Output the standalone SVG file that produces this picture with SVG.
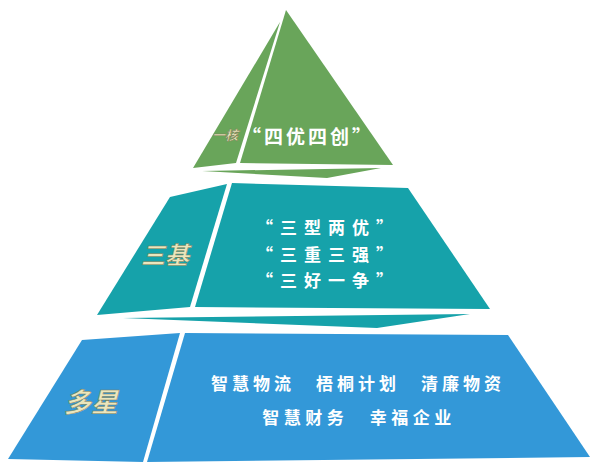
<svg xmlns="http://www.w3.org/2000/svg" width="600" height="467" viewBox="0 0 600 467">
<style>
.g{fill:#69a55a}
.t{fill:#16a2aa}
.b{fill:#3398d8}
.w{font-family:"Noto Sans CJK SC","Noto Sans",sans-serif;font-weight:bold;fill:#ffffff;text-anchor:middle}
.c{font-family:"Noto Sans CJK SC","Noto Sans",sans-serif;font-style:italic;font-weight:bold;fill:#ebe6bd;stroke:#7d7d55;stroke-width:0.5;text-anchor:middle}
</style>
<rect width="600" height="467" fill="#ffffff"/>
<g id="tier-top">
<polygon class="g" points="280,22 236,163 193,168"/>
<polygon class="g" points="286,10 393,165 240,163"/>
<polygon class="g" points="202,171 381,168 327,178"/>
<text class="c" x="225" y="140" font-size="13">一核</text>
<text class="w" x="308" y="144" font-size="19" letter-spacing="3">“四优四创”</text>
</g>
<g id="tier-middle">
<polygon class="t" points="170,197 227,184 190,307 97,315"/>
<polygon class="t" points="232,183 408,188 490,309 195,307"/>
<polygon class="t" points="123,318 470,314 377,328"/>
<text class="c" x="165" y="264" font-size="24">三基</text>
<text class="w" x="328" y="234" font-size="17" letter-spacing="7">“三型两优”</text>
<text class="w" x="328" y="261" font-size="17" letter-spacing="7">“三重三强”</text>
<text class="w" x="328" y="287" font-size="17" letter-spacing="7">“三好一争”</text>
</g>
<g id="tier-bottom">
<polygon class="b" points="82,340 180,333 143,462 8,459"/>
<polygon class="b" points="185,333 508,335 590,457 147,462"/>
<text class="c" x="91" y="412" font-size="27">多星</text>
<text class="w" x="358" y="390" font-size="17" letter-spacing="4">智慧物流　梧桐计划　清廉物资</text>
<text class="w" x="359" y="424" font-size="17" letter-spacing="4.5">智慧财务　幸福企业</text>
</g>
<g id="connectors"></g>
</svg>
